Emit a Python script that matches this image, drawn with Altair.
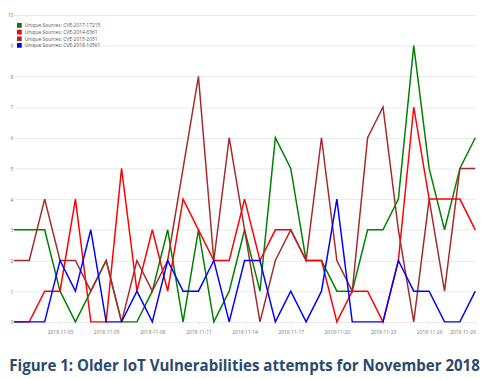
import altair as alt
import pandas as pd

day_index = list(range(31))
tick_days = [3, 6, 9, 12, 15, 18, 21, 24, 27, 30]
tick_labels = ["2018-11-03", "2018-11-05", "2018-11-08", "2018-11-11", "2018-11-14",
               "2018-11-17", "2018-11-20", "2018-11-23", "2018-11-26", "2018-11-29"]

series_names = ["Unique Sources: CVE-2017-17215", "Unique Sources: CVE-2014-8361",
                "Unique Sources: CVE-2015-2051", "Unique Sources: CVE-2018-10561"]
series_colors = ["#008000", "#ff0000", "#a52a2a", "#0000ff"]

cve_2017_17215 = [3, 3, 3, 1, 0, 1, 2, 0, 0, 1, 3, 0, 3, 0, 1, 3, 1, 6, 5, 2, 2, 1, 1, 3, 3, 4, 9, 5, 3, 5, 6]
cve_2014_8361 = [0, 0, 1, 1, 4, 0, 0, 5, 1, 3, 1, 4, 3, 2, 2, 4, 2, 3, 3, 2, 2, 0, 1, 1, 0, 2, 7, 4, 4, 4, 3]
cve_2015_2051 = [2, 2, 4, 2, 2, 1, 2, 0, 2, 1, 2, 5, 8, 2, 6, 3, 0, 2, 3, 2, 6, 2, 1, 6, 7, 3, 0, 4, 1, 5, 5]
cve_2018_10561 = [0, 0, 0, 2, 1, 3, 0, 0, 1, 0, 2, 1, 1, 2, 0, 2, 2, 0, 1, 0, 1, 4, 0, 0, 0, 2, 1, 1, 0, 0, 1]

all_values = [cve_2017_17215, cve_2014_8361, cve_2015_2051, cve_2018_10561]
rows = []
for name, vals in zip(series_names, all_values):
    for d, v in zip(day_index, vals):
        rows.append({"day": d, "value": v, "series": name})
df = pd.DataFrame(rows)

label_expr = "[" + ",".join(f"'{l}'" for l in tick_labels) + "][round(datum.value/3)-1]"

chart = alt.Chart(df).mark_line(strokeWidth=1.5).encode(
    x=alt.X("day:Q",
            scale=alt.Scale(domain=[0, 30], nice=False, zero=False),
            axis=alt.Axis(values=tick_days, labelExpr=label_expr, grid=False, domain=False,
                          ticks=True, tickSize=2, tickColor="#dddddd", labelFontSize=5,
                          labelColor="#777777", labelPadding=6, title=None, labelFont="Open Sans")),
    y=alt.Y("value:Q",
            scale=alt.Scale(domain=[0, 10], nice=False),
            axis=alt.Axis(values=list(range(11)), grid=True, gridColor="#e9e9e9", domain=False,
                          ticks=False, labelFontSize=5, labelPadding=1, title=None,
                          labelColor="#777777", labelFont="Open Sans")),
    color=alt.Color("series:N",
                    scale=alt.Scale(domain=series_names, range=series_colors),
                    legend=alt.Legend(orient="none", legendX=3, legendY=8, title=None,
                                      symbolType="square", symbolSize=6, symbolStrokeWidth=2.5,
                                      labelFontSize=5, labelColor="#555555", labelFont="Open Sans",
                                      rowPadding=0.8, labelOffset=3, clipHeight=5)),
).properties(
    width=469,
    height=312,
    autosize=alt.AutoSizeParams(type="none"),
    padding={"left": 6, "top": 4, "right": 17, "bottom": 55},
    title=alt.TitleParams(
        "Figure 1: Older IoT Vulnerabilities attempts for November 2018",
        orient="bottom", anchor="middle", font="Open Sans", fontSize=15.3,
        fontWeight="bold", color="#294a6d", offset=25, baseline="top"),
).configure_view(stroke=None)

chart.save("out.html", embed_options={"renderer": "svg", "actions": False})
